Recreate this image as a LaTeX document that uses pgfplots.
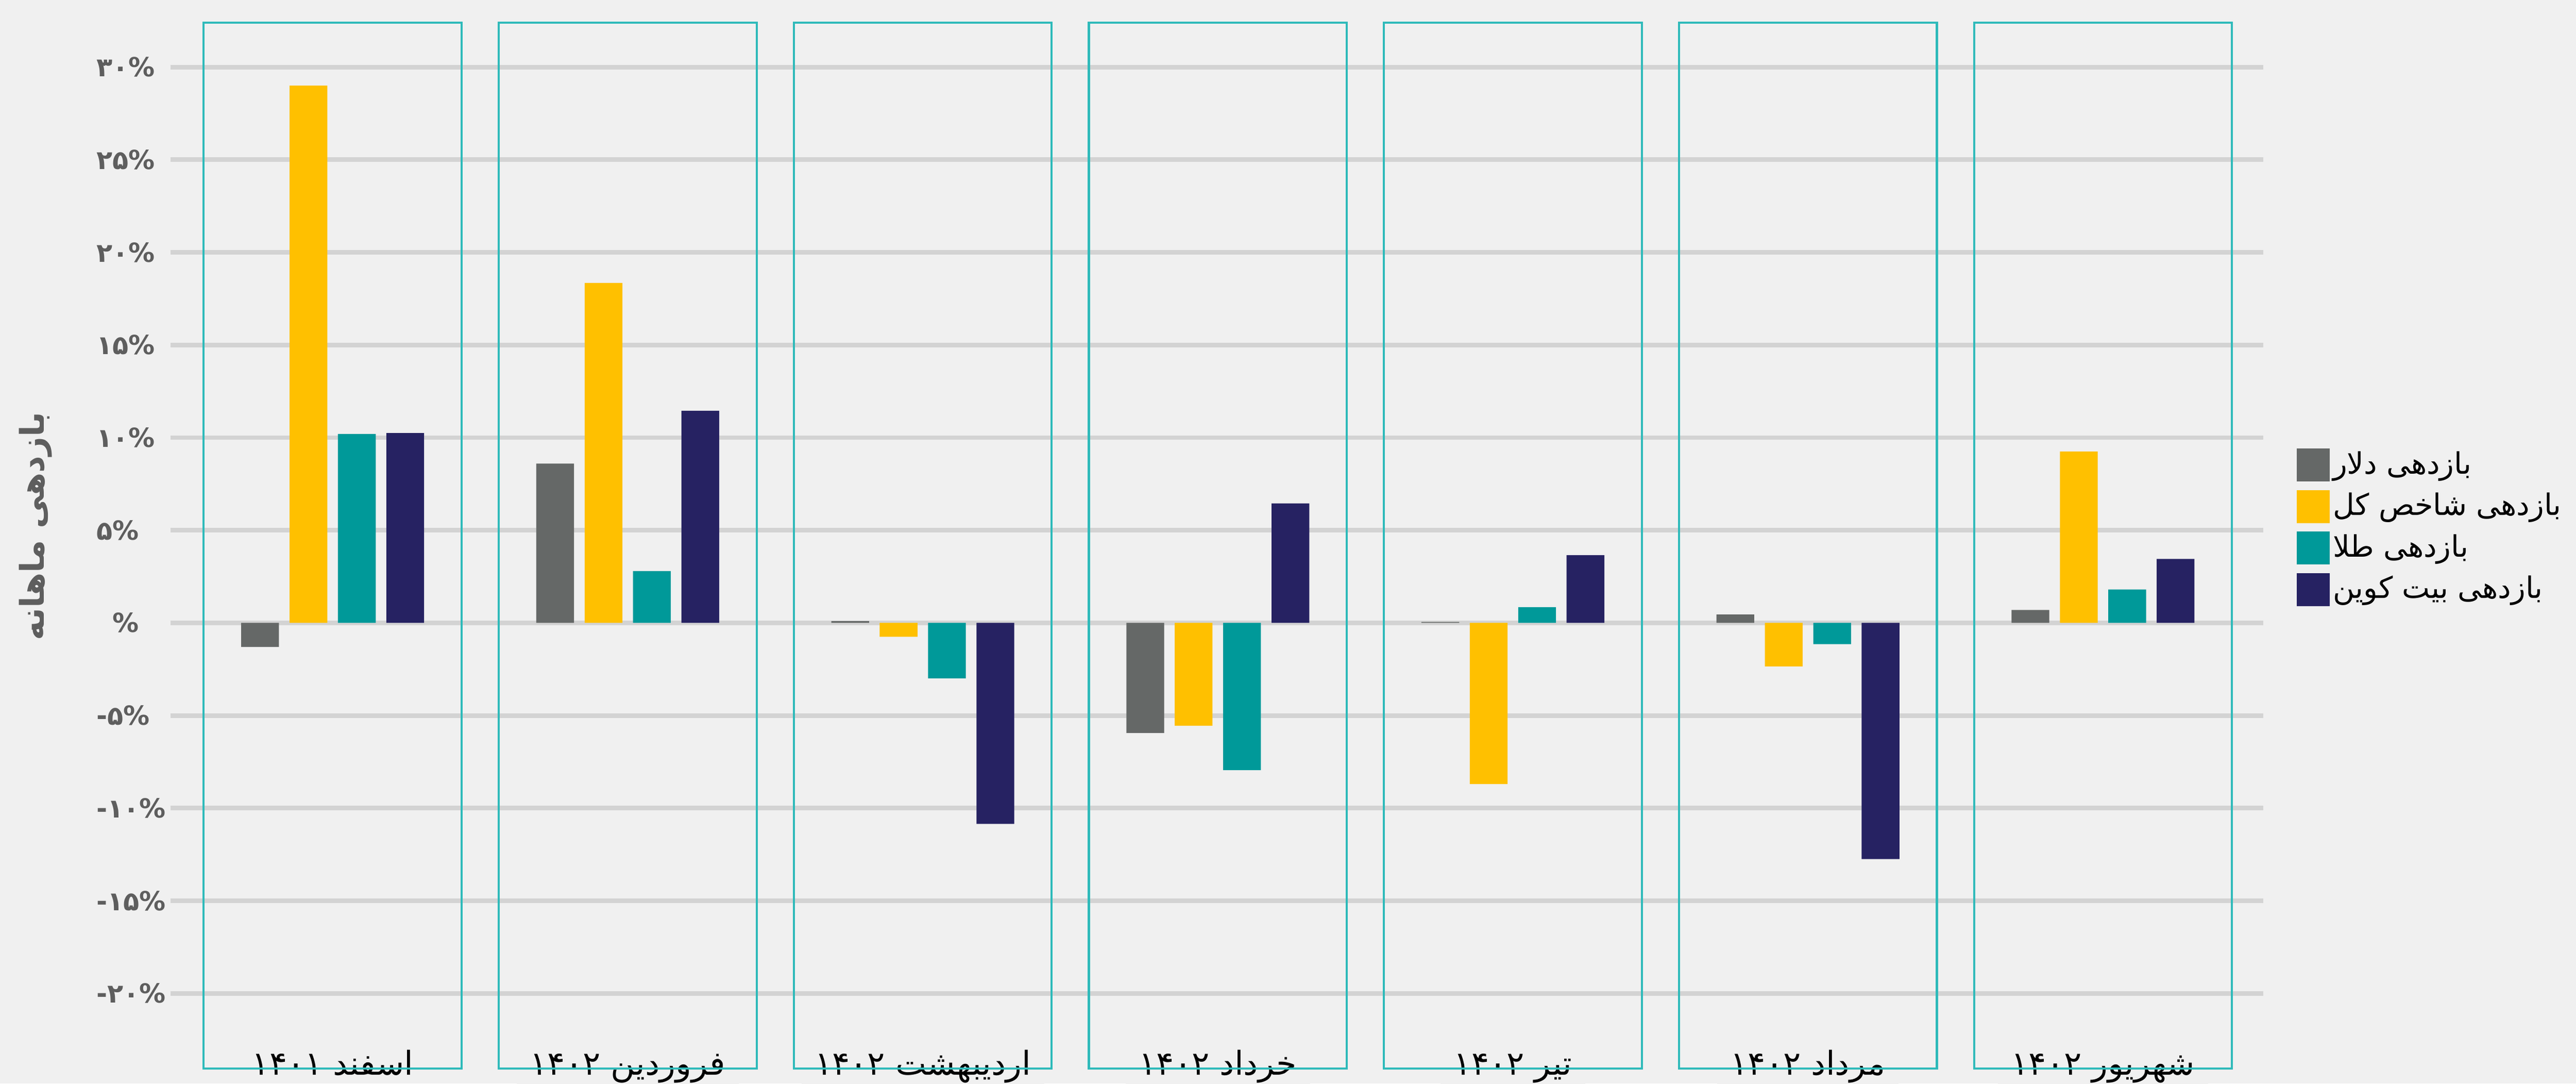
\documentclass[border=0pt]{standalone}
\usepackage{pgfplots}
\pgfplotsset{compat=1.18}
\usepackage{fontspec}
\newfontfamily\fa[Script=Arabic]{DejaVu Sans}
\TeXXeTstate=1

\definecolor{bg}{HTML}{F0F0F0}
\definecolor{gridc}{HTML}{D3D3D3}
\definecolor{boxc}{HTML}{2FBABA}
\definecolor{cdollar}{HTML}{656867}
\definecolor{cindex}{HTML}{FFC000}
\definecolor{cgold}{HTML}{009999}
\definecolor{cbtc}{HTML}{262262}
\definecolor{labgray}{HTML}{5E5E5E}

\pgfplotsset{
  layers/barsfirst/.define layer set={axis background,axis grid,axis ticks,axis lines,pre main,main,axis tick labels,axis descriptions,axis foreground}{},
  sq/.style={legend image code/.code={\fill[##1] (0pt,-5pt) rectangle (10pt,5pt);}},
}

\begin{document}
\begin{tikzpicture}
  \fill[bg] (0,0) rectangle (784pt,329.66pt);
  \begin{axis}[
    set layers=barsfirst,
    at={(51.85pt,3.7pt)}, anchor=south west,
    scale only axis,
    width=636.95pt, height=319pt,
    xmin=-0.550, xmax=6.543,
    ymin=-24.22, ymax=32.39,
    clip=false,
    axis line style={draw=none},
    tick style={draw=none},
    ymajorgrids,
    grid style={draw=gridc, line width=1.4pt},
    ytick={-20,-15,...,30},
    yticklabels={-\kern0pt ۲۰\%,-\kern0pt ۱۵\%,-\kern0pt ۱۰\%,-\kern0pt ۵\%,\phantom{۵}\%,۵\%,۱۰\%,۱۵\%,۲۰\%,۲۵\%,۳۰\%},
    yticklabel style={anchor=west, xshift=-26pt, color=labgray,
      font=\fa\bfseries\fontsize{8}{10}\selectfont},
    xtick={0,...,6},
    xticklabels={
      {\fa\beginR اسفند ۱۴۰۱\endR},
      {\fa\beginR فروردین ۱۴۰۲\endR},
      {\fa\beginR اردیبهشت ۱۴۰۲\endR},
      {\fa\beginR خرداد ۱۴۰۲\endR},
      {\fa\beginR تیر ۱۴۰۲\endR},
      {\fa\beginR مرداد ۱۴۰۲\endR},
      {\fa\beginR شهریور ۱۴۰۲\endR}},
    xticklabel style={anchor=base, yshift=-1pt, fill=bg, inner xsep=4pt,
      inner ysep=1pt, font=\fontsize{10}{12}\selectfont},
    ylabel={\fa\beginR بازدهی ماهانه\endR},
    ylabel style={at={(axis description cs:-0.0644,0.52)}, anchor=center,
      color=labgray, font=\fa\bfseries\fontsize{10}{12}\selectfont},
    legend style={at={(1,0.519)}, anchor=west, xshift=10pt, draw=none,
      fill=none, inner sep=0pt, row sep=2.3pt,
      font=\fontsize{9}{11}\selectfont,
      nodes={inner sep=1pt},
      cells={anchor=west}},
  ]
    \pgfplotsinvokeforeach{0,...,6}{
      \draw[boxc, line width=0.65pt] (axis cs:#1-0.437,-24.05) rectangle (axis cs:#1+0.437,32.39);
    }

    \addplot[ybar, bar width=0.128, bar shift=-0.246, fill=cdollar, draw=none, sq]
      coordinates {(0,-1.3) (1,8.6) (2,0.1) (3,-5.95) (4,0.05) (5,0.45) (6,0.7)};
    \addlegendentry{\fa\beginR بازدهی دلار\endR}

    \addplot[ybar, bar width=0.128, bar shift=-0.082, fill=cindex, draw=none, sq]
      coordinates {(0,29.0) (1,18.35) (2,-0.75) (3,-5.55) (4,-8.7) (5,-2.35) (6,9.25)};
    \addlegendentry{\fa\beginR بازدهی شاخص کل\endR}

    \addplot[ybar, bar width=0.128, bar shift=0.082, fill=cgold, draw=none, sq]
      coordinates {(0,10.2) (1,2.8) (2,-3.0) (3,-7.95) (4,0.85) (5,-1.15) (6,1.8)};
    \addlegendentry{\fa\beginR بازدهی طلا\endR}

    \addplot[ybar, bar width=0.128, bar shift=0.246, fill=cbtc, draw=none, sq]
      coordinates {(0,10.25) (1,11.45) (2,-10.85) (3,6.45) (4,3.65) (5,-12.75) (6,3.45)};
    \addlegendentry{\fa\beginR بازدهی بیت کوین\endR}
  \end{axis}
  \pgfresetboundingbox
  \useasboundingbox (0,0) rectangle (784pt,329.66pt);
\end{tikzpicture}
\end{document}
